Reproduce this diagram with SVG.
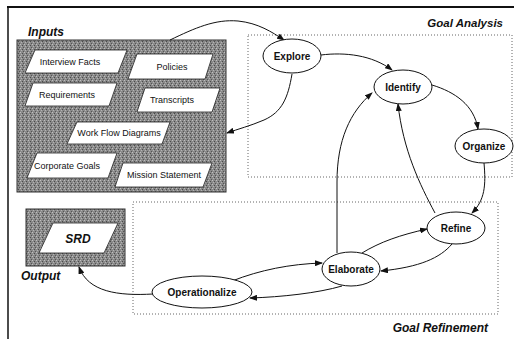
<svg xmlns="http://www.w3.org/2000/svg" width="514" height="339" viewBox="0 0 514 339">
<defs>
<pattern id="stip" width="4" height="4" patternUnits="userSpaceOnUse">
<rect width="4" height="4" fill="#8a8a8a"/>
<rect x="0" y="0" width="1" height="1" fill="#c0c0c0"/>
<rect x="2" y="1" width="1" height="1" fill="#4a4a4a"/>
<rect x="1" y="2" width="1" height="1" fill="#b4b4b4"/>
<rect x="3" y="3" width="1" height="1" fill="#555"/>
</pattern>
<marker id="arr" markerWidth="8" markerHeight="6" refX="7" refY="3" orient="auto" markerUnits="userSpaceOnUse">
<path d="M0,0 L8,3 L0,6 Z" fill="#111"/>
</marker>
</defs>
<style>
.frame{stroke:#111;fill:none}
.zone{fill:none;stroke:#666;stroke-width:1;stroke-dasharray:1 2}
.dark{fill:url(#stip);stroke:#333;stroke-width:1}
.para{fill:#fff;stroke:#222;stroke-width:0.8}
.ptxt{font-family:"Liberation Sans",Arial,sans-serif;font-size:9px;fill:#111;text-anchor:middle;dominant-baseline:central}
.node{fill:#fff;stroke:#111;stroke-width:1}
.ntxt{font-family:"Liberation Sans",Arial,sans-serif;font-size:10px;font-weight:bold;fill:#111;text-anchor:middle;dominant-baseline:central}
.title{font-family:"Liberation Sans",Arial,sans-serif;font-size:12px;font-weight:bold;font-style:italic;fill:#111}
.edge{fill:none;stroke:#111;stroke-width:1;marker-end:url(#arr)}
</style>
<rect width="514" height="339" fill="#fff"/>
<line class="frame" x1="7" y1="7" x2="514" y2="7" stroke-width="2"/>
<line class="frame" x1="8" y1="7" x2="8" y2="339" stroke-width="1.5"/>

<rect class="zone" x="248" y="35" width="264" height="142"/>
<rect class="zone" x="133" y="202" width="365" height="112"/>
<text class="title" x="503" y="27" text-anchor="end" style="font-size:11.5px">Goal Analysis</text>
<text class="title" x="488" y="332" text-anchor="end">Goal Refinement</text>

<g id="inputs">
<text class="title" x="28" y="36">Inputs</text>
<rect class="dark" x="17" y="40" width="209" height="152"/>
<g id="interview-facts"><polygon class="para" points="35,50 127,50 118,73 25,73"/><text class="ptxt" x="70" y="62">Interview Facts</text></g>
<g id="policies"><polygon class="para" points="137,54 213,54 205,79 128,79"/><text class="ptxt" x="172" y="67">Policies</text></g>
<g id="requirements"><polygon class="para" points="33,83 117,83 109,106 25,106"/><text class="ptxt" x="67" y="95">Requirements</text></g>
<g id="transcripts"><polygon class="para" points="145,88 220,88 212,112 137,112"/><text class="ptxt" x="172" y="100">Transcripts</text></g>
<g id="work-flow-diagrams"><polygon class="para" points="77,122 170,122 162,144 67,144"/><text class="ptxt" x="119" y="133">Work Flow Diagrams</text></g>
<g id="corporate-goals"><polygon class="para" points="37,153 117,153 108,178 27,178"/><text class="ptxt" x="67" y="166">Corporate Goals</text></g>
<g id="mission-statement"><polygon class="para" points="123,163 212,163 203,187 115,187"/><text class="ptxt" x="164" y="175">Mission Statement</text></g>
</g>

<g id="output">
<rect class="dark" x="26" y="209" width="99" height="57"/>
<polygon class="para" points="53,223 118,223 104,253 39,253"/>
<text class="title" x="78" y="239" text-anchor="middle" dominant-baseline="central">SRD</text>
<text class="title" x="21" y="280">Output</text>
</g>

<g id="connectors">
<path class="edge" d="M170,40 C195,28 215,19 238,21 C258,23 272,32 284,40"/>
<path class="edge" d="M292,74 C288,98 282,112 264,120 C250,126 238,129 227,133"/>
<path class="edge" d="M321,55 C345,52 372,55 392,70"/>
<path class="edge" d="M432,85 C455,92 474,105 478,129"/>
<path class="edge" d="M484,163 C486,185 485,200 472,213"/>
<path class="edge" d="M435,213 C420,185 403,150 398,104"/>
<path class="edge" d="M337,253 L337,182 C337,140 350,112 372,93"/>
<path class="edge" d="M362,253 C380,242 400,235 427,229"/>
<path class="edge" d="M452,244 C440,258 420,267 381,271"/>
<path class="edge" d="M232,281 C260,270 290,264 322,263"/>
<path class="edge" d="M342,286 C318,293 282,297 250,298"/>
<path class="edge" d="M153,294 C118,296 88,292 79,267"/>
</g>

<g id="explore"><ellipse class="node" cx="292" cy="56" rx="29" ry="17"/><text class="ntxt" x="292" y="56">Explore</text></g>
<g id="identify"><ellipse class="node" cx="403" cy="87" rx="29" ry="17"/><text class="ntxt" x="403" y="87">Identify</text></g>
<g id="organize"><ellipse class="node" cx="484" cy="146" rx="29" ry="17"/><text class="ntxt" x="484" y="146">Organize</text></g>
<g id="refine"><ellipse class="node" cx="456" cy="228" rx="29" ry="16"/><text class="ntxt" x="456" y="228">Refine</text></g>
<g id="elaborate"><ellipse class="node" cx="351" cy="269" rx="29" ry="17"/><text class="ntxt" x="351" y="269">Elaborate</text></g>
<g id="operationalize"><ellipse class="node" cx="202" cy="292" rx="50" ry="16"/><text class="ntxt" x="202" y="292">Operationalize</text></g>
</svg>
